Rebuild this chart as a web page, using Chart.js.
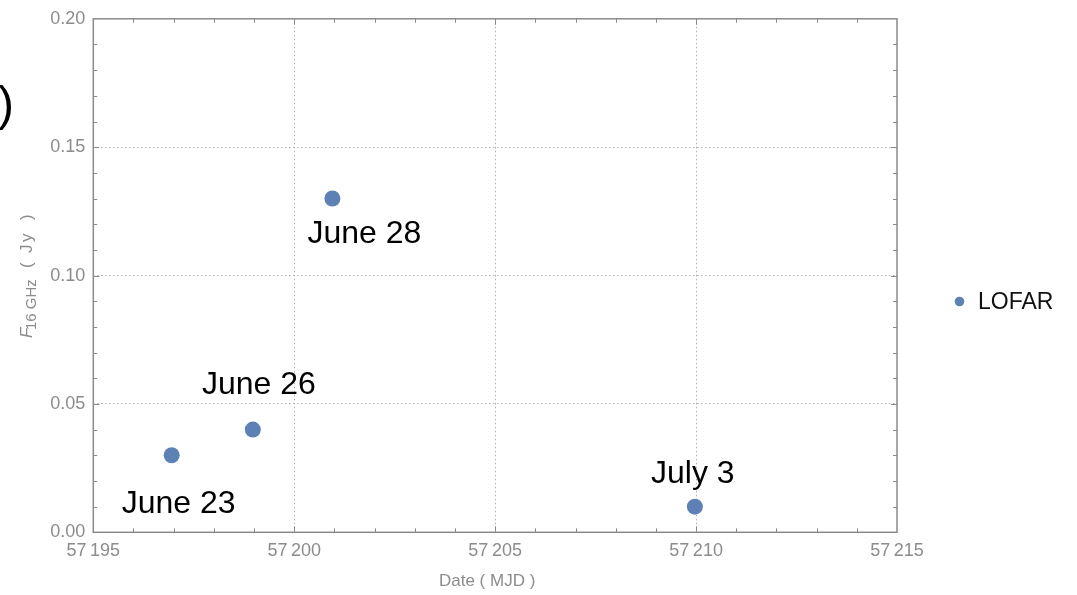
<!DOCTYPE html>
<html>
<head>
<meta charset="utf-8">
<title>LOFAR light curve</title>
<script src="https://cdn.jsdelivr.net/npm/chart.js@4/dist/chart.umd.min.js"></script>
<style>
  html, body { margin: 0; padding: 0; background: #ffffff; }
  canvas { display: block; }
</style>
</head>
<body>
<canvas id="chart" width="1077" height="595"></canvas>
<script>
// Observation epochs (MJD) and measured flux densities (Jy)
const mjd = [57196.95, 57198.97, 57200.95, 57209.97];
const flux = [0.030, 0.040, 0.130, 0.010];
const dateLabels = ['June 23', 'June 26', 'June 28', 'July 3'];
const seriesName = 'LOFAR';

// Axis tick labels
const xTickValues = [57195, 57200, 57205, 57210, 57215];
const xTickLabels = ['57\u2009195', '57\u2009200', '57\u2009205', '57\u2009210', '57\u2009215'];
const yTickValues = [0.00, 0.05, 0.10, 0.15, 0.20];
const yTickLabels = ['0.00', '0.05', '0.10', '0.15', '0.20'];

const FRAME = '#8a8a8a';
const TICK_TEXT = '#8c8c8c';
const POINT = '#5e81b5';
const SANS = '"Liberation Sans", Arial, sans-serif';

// Frame with inward major/minor ticks, annotations, legend and axis titles
const decorations = {
  id: 'decorations',
  afterDraw(chart) {
    const ctx = chart.ctx;
    const a = chart.chartArea;
    const xs = chart.scales.x, ys = chart.scales.y;
    ctx.save();

    // frame
    ctx.strokeStyle = FRAME;
    ctx.lineWidth = 1.5;
    ctx.strokeRect(a.left, a.top, a.right - a.left, a.bottom - a.top);

    // ticks along x (every 1 MJD, major every 5)
    ctx.lineWidth = 1;
    ctx.beginPath();
    for (let v = xs.min + 1; v < xs.max; v += 1) {
      const px = Math.round(xs.getPixelForValue(v)) + 0.5;
      const len = (Math.round(v - xs.min) % 5 === 0) ? 6 : 4;
      ctx.moveTo(px, a.bottom); ctx.lineTo(px, a.bottom - len);
      ctx.moveTo(px, a.top); ctx.lineTo(px, a.top + len);
    }
    // ticks along y (every 0.01, major every 0.05)
    for (let i = 1; i < 20; i++) {
      const v = i * 0.01;
      const py = Math.round(ys.getPixelForValue(v)) + 0.5;
      const len = (i % 5 === 0) ? 6 : 4;
      ctx.moveTo(a.left, py); ctx.lineTo(a.left + len, py);
      ctx.moveTo(a.right, py); ctx.lineTo(a.right - len, py);
    }
    ctx.stroke();

    // date annotations next to each point
    const labelOffsets = [[7, 58], [6, -36], [32, 44], [-2, -24]];
    const meta = chart.getDatasetMeta(0);
    ctx.fillStyle = '#000000';
    ctx.font = '32px ' + SANS;
    ctx.textAlign = 'center';
    ctx.textBaseline = 'alphabetic';
    meta.data.forEach((pt, i) => {
      ctx.fillText(dateLabels[i], pt.x + labelOffsets[i][0], pt.y + labelOffsets[i][1]);
    });

    // legend
    ctx.fillStyle = POINT;
    ctx.beginPath();
    ctx.arc(959.5, 301.5, 4.8, 0, Math.PI * 2);
    ctx.fill();
    ctx.fillStyle = '#111111';
    ctx.font = '23px ' + SANS;
    ctx.textAlign = 'left';
    ctx.fillText(seriesName, 978, 309);

    // closing parenthesis at the left edge
    ctx.fillStyle = '#000000';
    ctx.font = '48px ' + SANS;
    ctx.textAlign = 'right';
    ctx.fillText(')', 14, 120);

    // x axis title
    ctx.fillStyle = TICK_TEXT;
    ctx.font = '17px ' + SANS;
    ctx.textAlign = 'center';
    ctx.fillText('Date ( MJD )', (a.left + a.right) / 2 - 8, 586);

    // y axis title: F (italic) with subscript "16 GHz", then ( Jy ), read bottom to top
    ctx.translate(32, 338);
    ctx.rotate(-Math.PI / 2);
    ctx.textAlign = 'left';
    const parts = [
      { t: 'F', f: 'italic 17px ' + SANS, x: 0, dy: 0 },
      { t: '16 GHz', f: '15px ' + SANS, x: 8, dy: 4 },
      { t: '(', f: '17px ' + SANS, x: 70, dy: 0 },
      { t: 'J', f: '17px ' + SANS, x: 85, dy: 0 },
      { t: 'y', f: '17px ' + SANS, x: 96, dy: 0 },
      { t: ')', f: '17px ' + SANS, x: 118, dy: 0 }
    ];
    parts.forEach(p => { ctx.font = p.f; ctx.fillText(p.t, p.x, p.dy); });

    ctx.restore();
  }
};

const edgeHidden = (lo, hi) => (c) => {
  const v = c.tick ? c.tick.value : null;
  return (v === lo || v === hi) ? 'rgba(0,0,0,0)' : '#b0b0b0';
};

new Chart(document.getElementById('chart'), {
  type: 'scatter',
  data: {
    datasets: [{
      label: seriesName,
      data: mjd.map((x, i) => ({ x: x, y: flux[i] })),
      backgroundColor: POINT,
      borderWidth: 0,
      pointRadius: 8,
      pointHoverRadius: 8
    }]
  },
  options: {
    responsive: false,
    animation: false,
    devicePixelRatio: 1,
    layout: { padding: { left: 0, top: 18.5, right: 180, bottom: 0 } },
    plugins: { legend: { display: false }, tooltip: { enabled: false } },
    scales: {
      x: {
        type: 'linear',
        min: 57195, max: 57215,
        afterBuildTicks: (s) => { s.ticks = xTickValues.map(v => ({ value: v })); },
        afterFit: (s) => { s.height = 62.7; },
        grid: { color: edgeHidden(57195, 57215), lineWidth: 1, drawTicks: false },
        border: { display: false, dash: [1.5, 2.5] },
        ticks: {
          padding: 8,
          color: TICK_TEXT,
          font: { family: SANS, size: 18 },
          maxRotation: 0,
          callback: (v, i) => xTickLabels[i]
        }
      },
      y: {
        type: 'linear',
        min: 0, max: 0.2,
        afterBuildTicks: (s) => { s.ticks = yTickValues.map(v => ({ value: v })); },
        afterFit: (s) => { s.width = 93.3; },
        grid: { color: edgeHidden(0, 0.2), lineWidth: 1, drawTicks: false },
        border: { display: false, dash: [1.5, 2.5] },
        ticks: {
          padding: 8,
          color: TICK_TEXT,
          font: { family: SANS, size: 18 },
          callback: (v, i) => yTickLabels[i]
        }
      }
    }
  },
  plugins: [decorations]
});
</script>
</body>
</html>
